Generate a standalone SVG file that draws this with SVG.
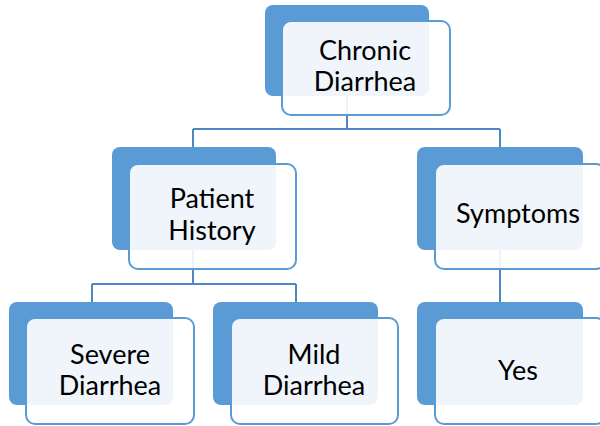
<svg xmlns="http://www.w3.org/2000/svg" width="600" height="426" viewBox="0 0 600 426">
<style>
.back{fill:#5B9BD5;}
.front{fill:#FFFFFF;fill-opacity:0.9;stroke:#5B9BD5;stroke-width:2;}
.conn{fill:none;stroke:#4F87C4;stroke-width:2;}
text{font-family:Lato,"Liberation Sans",sans-serif;font-size:27px;fill:#000;text-anchor:middle;}
</style>
<rect width="600" height="426" fill="#FFFFFF"/>
<g id="connectors">
<path class="conn" d="M347,96 V129 M193,129 H500 M193,129 V148 M500,129 V148"/>
<path class="conn" d="M193,250 V284 M92,284 H296 M92,284 V302 M296,284 V302"/>
<path class="conn" d="M500,250 V302"/>
</g>
<g id="chronic">
<rect class="back" x="265" y="5" width="164" height="91" rx="8"/>
<rect class="front" x="282" y="21" width="168" height="94" rx="9"/>
<text x="365" y="60">Chronic</text>
<text x="365" y="91">Diarrhea</text>
</g>
<g id="patient">
<rect class="back" x="112" y="147" width="164" height="103" rx="8"/>
<rect class="front" x="129" y="164" width="167" height="105" rx="9"/>
<text x="212" y="208">Patient</text>
<text x="212" y="240">History</text>
</g>
<g id="symptoms">
<rect class="back" x="417" y="147" width="166" height="103" rx="8"/>
<rect class="front" x="435" y="164" width="170" height="105" rx="9"/>
<text x="518" y="223">Symptoms</text>
</g>
<g id="severe">
<rect class="back" x="9" y="302" width="164" height="103" rx="8"/>
<rect class="front" x="26" y="318" width="168" height="106" rx="9"/>
<text x="110" y="364">Severe</text>
<text x="110" y="395">Diarrhea</text>
</g>
<g id="mild">
<rect class="back" x="213" y="302" width="165" height="103" rx="8"/>
<rect class="front" x="231" y="318" width="167" height="106" rx="9"/>
<text x="314" y="364">Mild</text>
<text x="314" y="395">Diarrhea</text>
</g>
<g id="yes">
<rect class="back" x="417" y="302" width="166" height="103" rx="8"/>
<rect class="front" x="435" y="318" width="170" height="106" rx="9"/>
<text x="518" y="380">Yes</text>
</g>
</svg>
